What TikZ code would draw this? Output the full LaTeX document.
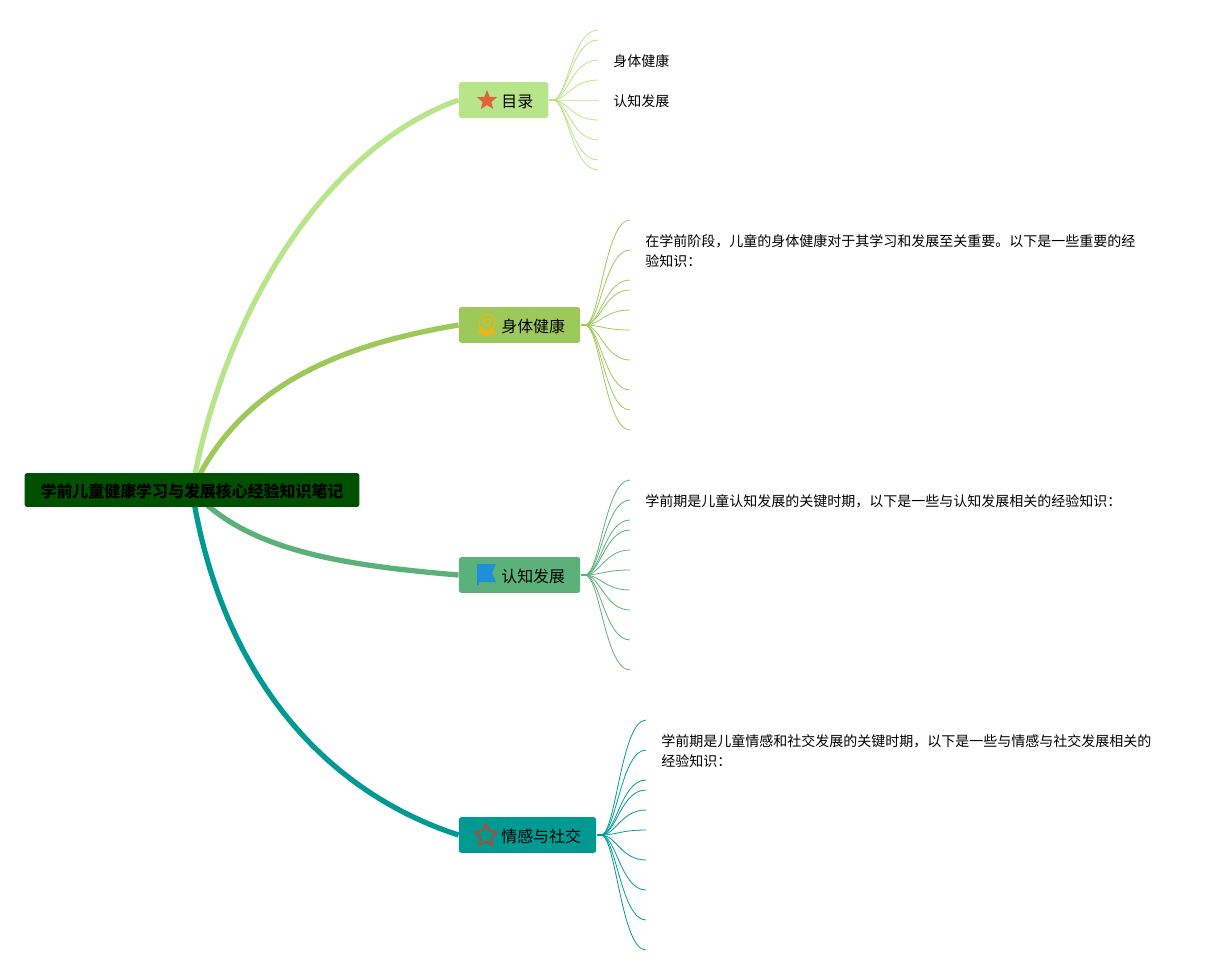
\documentclass[tikz,border=0pt]{standalone}
\usepackage{fontspec}
\setmainfont{Noto Sans CJK SC}
\usetikzlibrary{shapes.geometric,backgrounds}
\definecolor{rootgreen}{HTML}{005000}
\definecolor{mululime}{HTML}{B8E48A}
\definecolor{shentigreen}{HTML}{9DC95B}
\definecolor{renzhigreen}{HTML}{5CB07A}
\definecolor{qinggants}{HTML}{009A93}
\definecolor{staricon}{HTML}{E0633A}
\definecolor{badgeicon}{HTML}{E3B81E}
\definecolor{flagicon}{HTML}{1E90D8}
\definecolor{outlineicon}{HTML}{B5492F}
\tikzset{
  rootbox/.style={anchor=center, fill=rootgreen, rounded corners=1.5pt, minimum width=190.6pt, minimum height=19.3pt, inner sep=0pt, font=\fontsize{9.07}{11}\selectfont\bfseries},
  branchbox/.style={anchor=west, rounded corners=1.5pt, minimum height=20.4pt, inner xsep=8.6pt, inner ysep=0pt, font=\fontsize{9.07}{11}\selectfont},
  leaftext/.style={anchor=west, inner sep=0pt, align=left, font=\fontsize{7.97}{11.34}\selectfont},
  trunk/.style={line width=3pt},
  stub/.style={line width=1.2pt},
  twig/.style={line width=0.45pt}
}
\newcommand{\lowtext}[1]{\raisebox{0pt}[9.8pt][1.1pt]{#1}}
\newcommand{\iconlabel}[1]{\hspace*{15.6pt}\lowtext{#1}}
\begin{document}
\begin{tikzpicture}[x=0.02cm, y=-0.02cm]
\useasboundingbox (0,0) rectangle (1221,975);

% Root and the four branch boxes
\node[rootbox] (root) at (192,490) {\lowtext{学前儿童健康学习与发展核心经验知识笔记}};
\node[branchbox, fill=mululime] (mulu) at (458.5,100) {\iconlabel{目录}};
\node[branchbox, fill=shentigreen] (shenti) at (458.5,325) {\iconlabel{身体健康}};
\node[branchbox, fill=renzhigreen] (renzhi) at (458.5,575) {\iconlabel{认知发展}};
\node[branchbox, fill=qinggants] (qinggan) at (458.5,835) {\iconlabel{情感与社交}};

% Thick curves from the root
\begin{scope}[on background layer]
\draw[trunk, mululime] (root.center) .. controls (222,320) and (320,150) .. (mulu.west);
\draw[trunk, shentigreen] (root.center) .. controls (240,385) and (340,345) .. (shenti.west);
\draw[trunk, renzhigreen] (root.center) .. controls (245,550) and (340,565) .. (renzhi.west);
\draw[trunk, qinggants] (root.center) .. controls (220,670) and (320,790) .. (qinggan.west);
\end{scope}

% Hubs and free ends of the thin curves
\coordinate (muluhub) at (553,100);
\coordinate (shentihub) at (585,325);
\coordinate (renzhihub) at (585,575);
\coordinate (qingganhub) at (601,835);
\draw[stub, mululime] (mulu.east) -- (muluhub);
\draw[stub, shentigreen] (shenti.east) -- (shentihub);
\draw[stub, renzhigreen] (renzhi.east) -- (renzhihub);
\draw[stub, qinggants] (qinggan.east) -- (qingganhub);

\foreach \yend in {30,40,60,80,100,120,140,160,170}{
  \coordinate (muluend\yend) at (598,\yend);
  \draw[twig, mululime] (muluhub) .. controls +(14,0) and +(-26,0) .. (muluend\yend);
}
\foreach \yend in {220,250,280,290,310,330,360,390,410,430}{
  \coordinate (shentiend\yend) at (630,\yend);
  \draw[twig, shentigreen] (shentihub) .. controls +(15,0) and +(-25,0) .. (shentiend\yend);
}
\foreach \yend in {480,500,520,530,550,570,590,610,640,670}{
  \coordinate (renzhiend\yend) at (630,\yend);
  \draw[twig, renzhigreen] (renzhihub) .. controls +(15,0) and +(-25,0) .. (renzhiend\yend);
}
\foreach \yend in {720,750,780,790,810,830,860,890,920,950}{
  \coordinate (qingganend\yend) at (646,\yend);
  \draw[twig, qinggants] (qingganhub) .. controls +(15,0) and +(-25,0) .. (qingganend\yend);
}

% Texts
\node[leaftext] (muluone) at (613,61.5) {身体健康};
\node[leaftext] (mulutwo) at (613,101.5) {认知发展};
\node[leaftext] (shentitext) at (645,251.5) {在学前阶段，儿童的身体健康对于其学习和发展至关重要。以下是一些重要的经\\验知识：};
\node[leaftext] (renzhitext) at (645,501.5) {学前期是儿童认知发展的关键时期，以下是一些与认知发展相关的经验知识：};
\node[leaftext] (qingantext) at (661,751.5) {学前期是儿童情感和社交发展的关键时期，以下是一些与情感与社交发展相关的\\经验知识：};

% Icons
\node[star, star points=5, star point ratio=2.3, fill=staricon, minimum size=12pt, inner sep=0pt] (staricn) at (487,100.5) {};
\node[star, star points=5, star point ratio=2.0, draw=outlineicon, line width=1pt, minimum size=13pt, inner sep=0pt] (outlineicn) at (486,835.5) {};
\draw[badgeicon, line width=0.8pt] (487,322) circle (8) (487,322) circle (3.5);
\draw[badgeicon, fill=badgeicon, line width=0.8pt, line join=round] (481,329) -- (478,334) -- (483,334) -- (486,336) -- (487,331) -- (488,336) -- (491,334) -- (496,334) -- (493,329) -- (487,331) -- cycle;
\fill[flagicon] (477,564) -- (496,564) -- (492,573) -- (496,582) -- (479,582) -- (479,585) -- (477,585) -- cycle;
\end{tikzpicture}
\end{document}
